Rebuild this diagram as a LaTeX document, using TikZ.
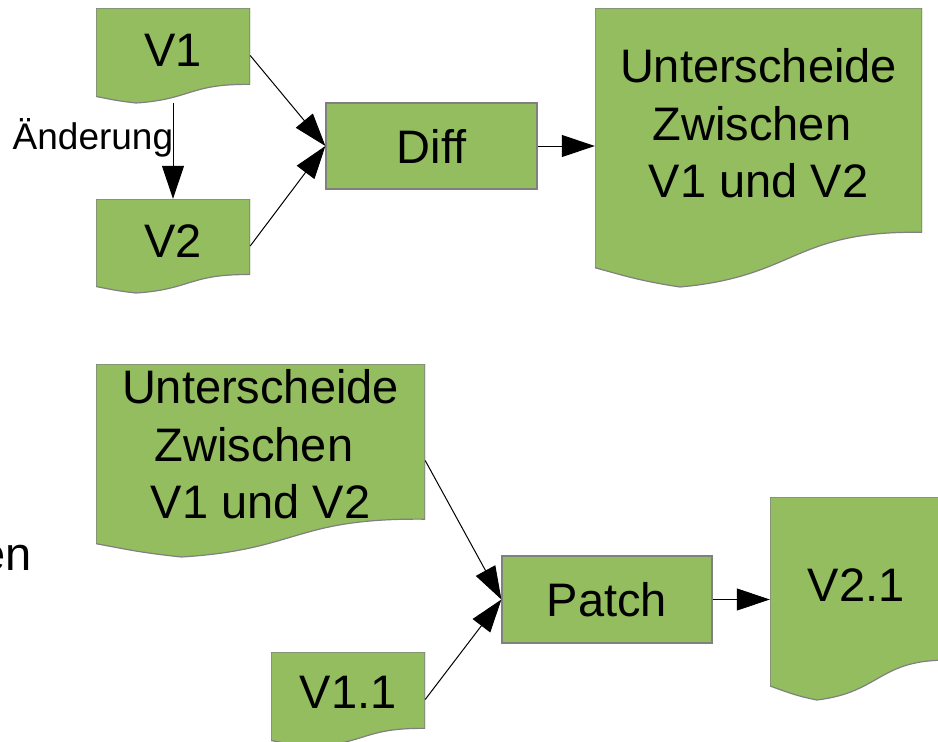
\documentclass[tikz,border=0pt]{standalone}
\usepackage{fontspec}
\setmainfont{Liberation Sans}
\usetikzlibrary{arrows.meta,calc}

\definecolor{docgreen}{RGB}{147,189,94}
\definecolor{docline}{RGB}{128,128,128}

\begin{document}
\begin{tikzpicture}[x=1pt,y=-1pt]
  \tikzstyle{every node}=[font=\fontsize{47}{57.5}\selectfont]
  \tikzstyle{box}=[rectangle,draw=docline,fill=docgreen,line width=1.2pt,inner sep=0pt]
  \tikzstyle{doc}=[rectangle,inner sep=0pt,path picture={
    \path[fill=docgreen,draw=docline,line width=1.2pt]
      let \p1=(path picture bounding box.north west),
          \p2=(path picture bounding box.south east),
          \n1={\x2-\x1}, \n2={\y1-\y2} in
      (\x1,\y1) -- (\x2,\y1) -- (\x2,{\y1-0.804*\n2})
      .. controls ({\x1+0.604*\n1},{\y1-0.797*\n2}) and ({\x1+0.618*\n1},{\y1-0.962*\n2}) .. ({\x1+0.26*\n1},\y2)
      .. controls ({\x1+0.132*\n1},{\y1-0.977*\n2}) and ({\x1+0.086*\n1},{\y1-0.958*\n2}) .. (\x1,{\y1-0.931*\n2})
      -- cycle;}]
  \tikzstyle{txt}=[align=center]
  \tikzstyle{arr}=[-{Triangle[length=33pt,width=22pt]},line width=1pt]

  \useasboundingbox (0,0) rectangle (938,742);

  % first step: diff
  \node[doc,minimum width=154,minimum height=95,label={[txt,yshift=5.5]center:V1}] (v1) at (173,55.5) {};
  \node[doc,minimum width=154,minimum height=94,label={[txt,yshift=5]center:V2}]   (v2) at (173,246) {};
  \node[box,minimum width=211,minimum height=86] (diff) at (431.5,146) {Diff};
  \node[doc,minimum width=327,minimum height=279,
        label={[txt,yshift=24]center:Unterscheide\\Zwischen~~\\V1 und V2}] (diffout) at (758.5,147.5) {};

  % second step: patch
  \node[doc,minimum width=329,minimum height=193,
        label={[txt,yshift=16]center:Unterscheide\\Zwischen~~\\V1 und V2}] (diffin) at (260.5,460.5) {};
  \node[doc,minimum width=154,minimum height=95,label={[txt,yshift=7]center:V1.1}]   (v11) at (348,699.5) {};
  \node[box,minimum width=210,minimum height=87] (patch) at (607,599.5) {Patch};
  \node[doc,minimum width=180,minimum height=203,label={[txt,yshift=13.5,xshift=-4]center:V2.1}] (v21) at (860,598.5) {};

  \node[anchor=base east] (rest) at (35,570) {en};

  \draw[arr] (v1.south) -- node[pos=0.48,anchor=base east,xshift=4pt,font=\fontsize{37}{44}\selectfont] (chg) {Änderung} (v2.north);
  \draw[arr] (v1.east) -- (diff.west);
  \draw[arr] (v2.east) -- (diff.west);
  \draw[arr] (diff.east) -- (diff.east -| diffout.west);

  \draw[arr] (diffin.east) -- (patch.west);
  \draw[arr] (v11.east) -- (patch.west);
  \draw[arr] (patch.east) -- (patch.east -| v21.west);
\end{tikzpicture}
\end{document}
